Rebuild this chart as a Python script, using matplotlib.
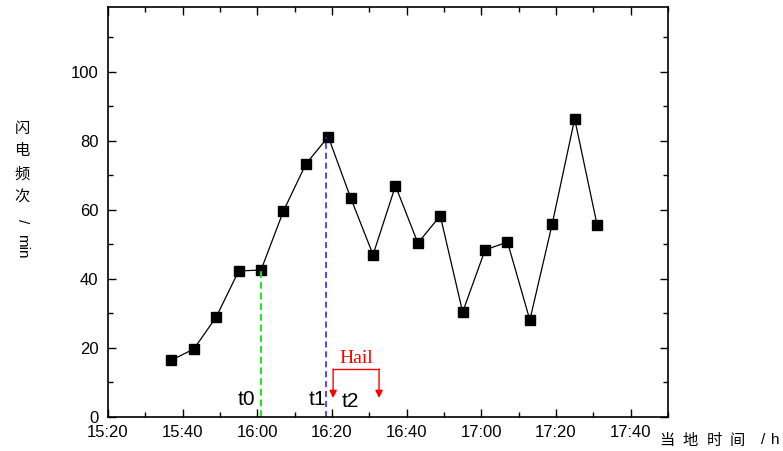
import matplotlib
matplotlib.use("Agg")
import matplotlib.pyplot as plt
from matplotlib.ticker import MultipleLocator, FixedLocator

plt.rcParams['font.family'] = ['Liberation Sans', 'Noto Sans CJK SC', 'DejaVu Sans']

# minutes after 15:20
minutes = [17, 23, 29, 35, 41, 47, 53, 59, 65, 71, 77, 83, 89, 95, 101, 107, 113, 119, 125, 131]
flashes = [16.5, 19.7, 29, 42.3, 42.6, 59.7, 73.3, 81.2, 63.5, 47, 67, 50.4, 58.3, 30.4, 48.4, 50.7, 28.1, 56, 86.4, 55.7]
tick_minutes = [0, 20, 40, 60, 80, 100, 120, 140]
tick_labels = ["15:20", "15:40", "16:00", "16:20", "16:40", "17:00", "17:20", "17:40"]
t0_x, t0_y = 41, 42.6
t1_x, t1_y = 58.5, 81.2
hail_start, hail_end = 60.3, 72.6

fig = plt.figure(figsize=(7.83, 4.51), dpi=100)
ax = fig.add_axes([108/783, 34/451, 560/783, 410/451])
ax.plot(minutes, flashes, color='black', lw=0.9, marker='s', markersize=7,
        markerfacecolor='black', markeredgecolor='black')
ax.set_xlim(0, 150)
ax.set_ylim(0, 118.8)
ax.xaxis.set_major_locator(FixedLocator(tick_minutes))
ax.set_xticklabels(tick_labels)
ax.xaxis.set_minor_locator(MultipleLocator(10))
ax.yaxis.set_major_locator(MultipleLocator(20))
ax.yaxis.set_minor_locator(MultipleLocator(10))
ax.tick_params(which='both', direction='in', top=True, right=True, labelsize=12, width=1)
ax.tick_params(which='major', length=6)
ax.tick_params(which='minor', length=3.5)
ax.tick_params(axis='x', pad=6)
ax.tick_params(axis='y', pad=7)
for s in ax.spines.values():
    s.set_linewidth(1.2)

ax.plot([t0_x, t0_x], [0, t0_y], color='#11ee11', lw=1.4, ls=(0, (3.5, 2)))
ax.plot([t1_x, t1_x], [0, t1_y], color='#1a1aff', lw=1.1, ls=(0, (4, 2.5)))

# Hail bracket
hy = 13.9
ax.plot([hail_start, hail_end], [hy, hy], color='red', lw=1)
for hx in (hail_start, hail_end):
    ax.annotate('', xy=(hx, 5.5), xytext=(hx, hy),
                arrowprops=dict(arrowstyle='-|>', color='red', lw=1, mutation_scale=11, shrinkA=0, shrinkB=0))
ax.text((hail_start + hail_end) / 2, hy + 0.6, 'Hail', color='red', ha='center', va='bottom',
        fontsize=14, family='Liberation Serif')
ax.text(37.2, 3.6, 't0', fontsize=15, ha='center', va='baseline')
ax.text(56.2, 3.6, 't1', fontsize=15, ha='center', va='baseline')
ax.text(64.8, 2.8, 't2', fontsize=15, ha='center', va='baseline')

# y label (vertical)
ychars = ['闪', '电', '频', '次']
for i, c in enumerate(ychars):
    fig.text(22/783, 1 - (128 + i*23)/451, c, fontsize=11, ha='center', va='center',
             family=['Noto Sans CJK SC'])
fig.text(22/783, 1 - 221/451, '/', fontsize=11, ha='center', va='center', rotation=-90)
fig.text(22/783, 1 - 246/451, 'min', fontsize=11, ha='center', va='center', rotation=-90)

# x label
xchars = ['当', '地', '时', '间']
for i, c in enumerate(xchars):
    fig.text((667 + i*23.5)/783, 1 - 440/451, c, fontsize=11, ha='center', va='center',
             family=['Noto Sans CJK SC'])
fig.text(763/783, 1 - 440/451, '/', fontsize=11, ha='center', va='center')
fig.text(775/783, 1 - 440/451, 'h', fontsize=11, ha='center', va='center')

fig.savefig('out.png', dpi=100)
